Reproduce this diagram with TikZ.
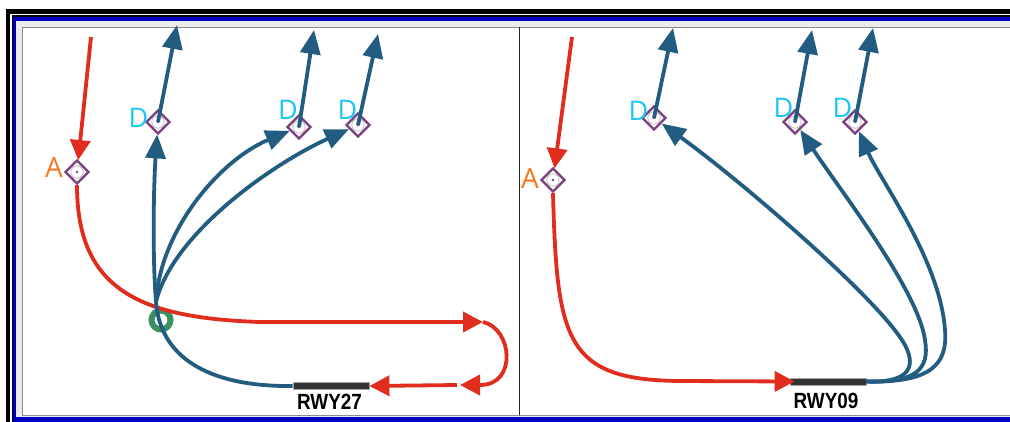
\documentclass[tikz,border=0pt]{standalone}
\usepackage{fontspec}
\setmainfont{Liberation Sans}
\newfontfamily\lblfont{Open Sans}
\usetikzlibrary{arrows.meta,shapes.geometric}
\definecolor{rd}{HTML}{E02D1E}
\definecolor{bl}{HTML}{225C80}
\definecolor{wpc}{HTML}{7B3F7F}
\definecolor{ringc}{HTML}{3A8F63}
\definecolor{orng}{HTML}{F57A1F}
\definecolor{cyn}{HTML}{1AC6F2}
\definecolor{frblue}{HTML}{0000C0}
\definecolor{frgray}{HTML}{EBEBEB}
\definecolor{rwyc}{HTML}{333333}
\tikzset{
  redline/.style={draw=rd, line width=3.8pt},
  blueline/.style={draw=bl, line width=3.8pt},
  redarr/.style={redline, -{Triangle[length=20pt,width=20pt]}},
  bluearr/.style={blueline, -{Triangle[length=24pt,width=20pt]}},
  wp/.style={diamond, draw=wpc, line width=2.4pt, minimum width=24pt, minimum height=24pt, inner sep=0pt,
    path picture={\draw[draw=black!25, line width=0.8pt, fill=white] (path picture bounding box.center) circle[radius=6.2pt];
                  \fill[wpc] (path picture bounding box.center) circle[radius=1.3pt];}},
  albl/.style={font=\lblfont\fontsize{28}{28}\selectfont, text=orng, inner sep=0pt},
  dlbl/.style={font=\lblfont\fontsize{27}{27}\selectfont, text=cyn, inner sep=0pt},
  rwy/.style={rectangle, fill=rwyc, draw=black!35, line width=0.8pt, minimum width=76pt, minimum height=7pt, inner sep=0pt},
  rwylbl/.style={font=\bfseries\fontsize{22}{22}\selectfont, xscale=0.86, inner sep=0pt},
  ring/.style={circle, draw=ringc, line width=6pt, minimum size=19pt, inner sep=0pt}
}
\begin{document}
\begin{tikzpicture}[x=1pt, y=-1pt]
\useasboundingbox (0,0) rectangle (1010,421);
\clip (0,0) rectangle (1010,421);
% frame
\fill[white] (0,0) rectangle (1010,421);
\fill[black] (6,9) rectangle (1015,430);
\fill[white] (10,14) rectangle (1015,430);
\fill[black] (12,15) rectangle (1015,430);
\fill[frblue] (13,17) rectangle (1015,430);
\fill[frgray] (16,21) rectangle (1015,417);
\filldraw[fill=white, draw=black!45, line width=1pt] (22,27) rectangle (1015,415);
\draw[black!85, line width=1.2pt] (519.5,27) -- (519.5,415);

% ---------- left panel ----------
\node[ring] (hold) at (161,320) {};
\node[wp] (la) at (77,172) {};
\node[wp] (ld1) at (158,122) {};
\node[wp] (ld2) at (299,127) {};
\node[wp] (ld3) at (358,125) {};
\node[albl] (laL) at (54,167) {A};
\node[dlbl] (ld1L) at (138.5,117.5) {D};
\node[dlbl] (ld2L) at (288,109.5) {D};
\node[dlbl] (ld3L) at (347.5,109.5) {D};
\node[rwy] (r27) at (331,386) {};
\node[rwylbl] (r27L) at (329.5,401.5) {RWY27};

\coordinate (lin) at (91,37);
\coordinate (ltop1) at (177,25);
\coordinate (ltop2) at (314,30);
\coordinate (ltop3) at (378,34);
\coordinate (lsplit) at (156,302);
\coordinate (lturn) at (483,322);
\coordinate (lback) at (460,385);
\coordinate (lback2) at (457,385);

\draw[redarr] (lin) -- (la);
\draw[redarr] (la.south) .. controls (77,290) and (140,318) .. (260,322) -- (lturn);
\draw[redarr] (lturn) .. controls (512,328) and (518,385) .. (480,385) -- (lback);
\draw[redarr] (lback2) -- (r27.east);

\draw[blueline] (r27.west) .. controls (205,387) and (160,355) .. (lsplit);
\draw[bluearr] (lsplit) .. controls (152,250) and (154,180) .. (ld1);
\draw[bluearr] (lsplit) .. controls (160,230) and (220,160) .. (ld2);
\draw[bluearr] (lsplit) .. controls (172,235) and (270,165) .. (ld3);
\draw[bluearr] (ld1.center) -- (ltop1);
\draw[bluearr] (ld2.center) -- (ltop2);
\draw[bluearr] (ld3.center) -- (ltop3);

% ---------- right panel ----------
\node[wp] (ra) at (553,180) {};
\node[wp] (rd1) at (654,118) {};
\node[wp] (rd2) at (795,122) {};
\node[wp] (rd3) at (855,122) {};
\node[albl] (raL) at (530,178) {A};
\node[dlbl] (rd1L) at (638.5,111) {D};
\node[dlbl] (rd2L) at (783.5,107.5) {D};
\node[dlbl] (rd3L) at (842.5,107.5) {D};
\node[rwy] (r09) at (828,381.5) {};
\node[rwylbl] (r09L) at (826,400.5) {RWY09};

\coordinate (rin) at (572,37);
\coordinate (rtop1) at (673,28);
\coordinate (rtop2) at (812,30);
\coordinate (rtop3) at (873,28);

\draw[redarr] (rin) -- (ra);
\draw[redarr] (ra.south) .. controls (557,340) and (565,380) .. (680,381) -- ([xshift=5pt]r09.west);

\draw[bluearr] (r09.east) .. controls (905,383) and (918,370) .. (905,345) .. controls (880,300) and (740,180) .. (rd1);
\draw[bluearr] (r09.east) .. controls (915,383) and (930,370) .. (925,340) .. controls (918,290) and (840,190) .. (rd2);
\draw[bluearr] (r09.east) .. controls (930,383) and (948,365) .. (945,330) .. controls (940,260) and (880,180) .. (rd3);
\draw[bluearr] (rd1.center) -- (rtop1);
\draw[bluearr] (rd2.center) -- (rtop2);
\draw[bluearr] (rd3.center) -- (rtop3);
\end{tikzpicture}
\end{document}
